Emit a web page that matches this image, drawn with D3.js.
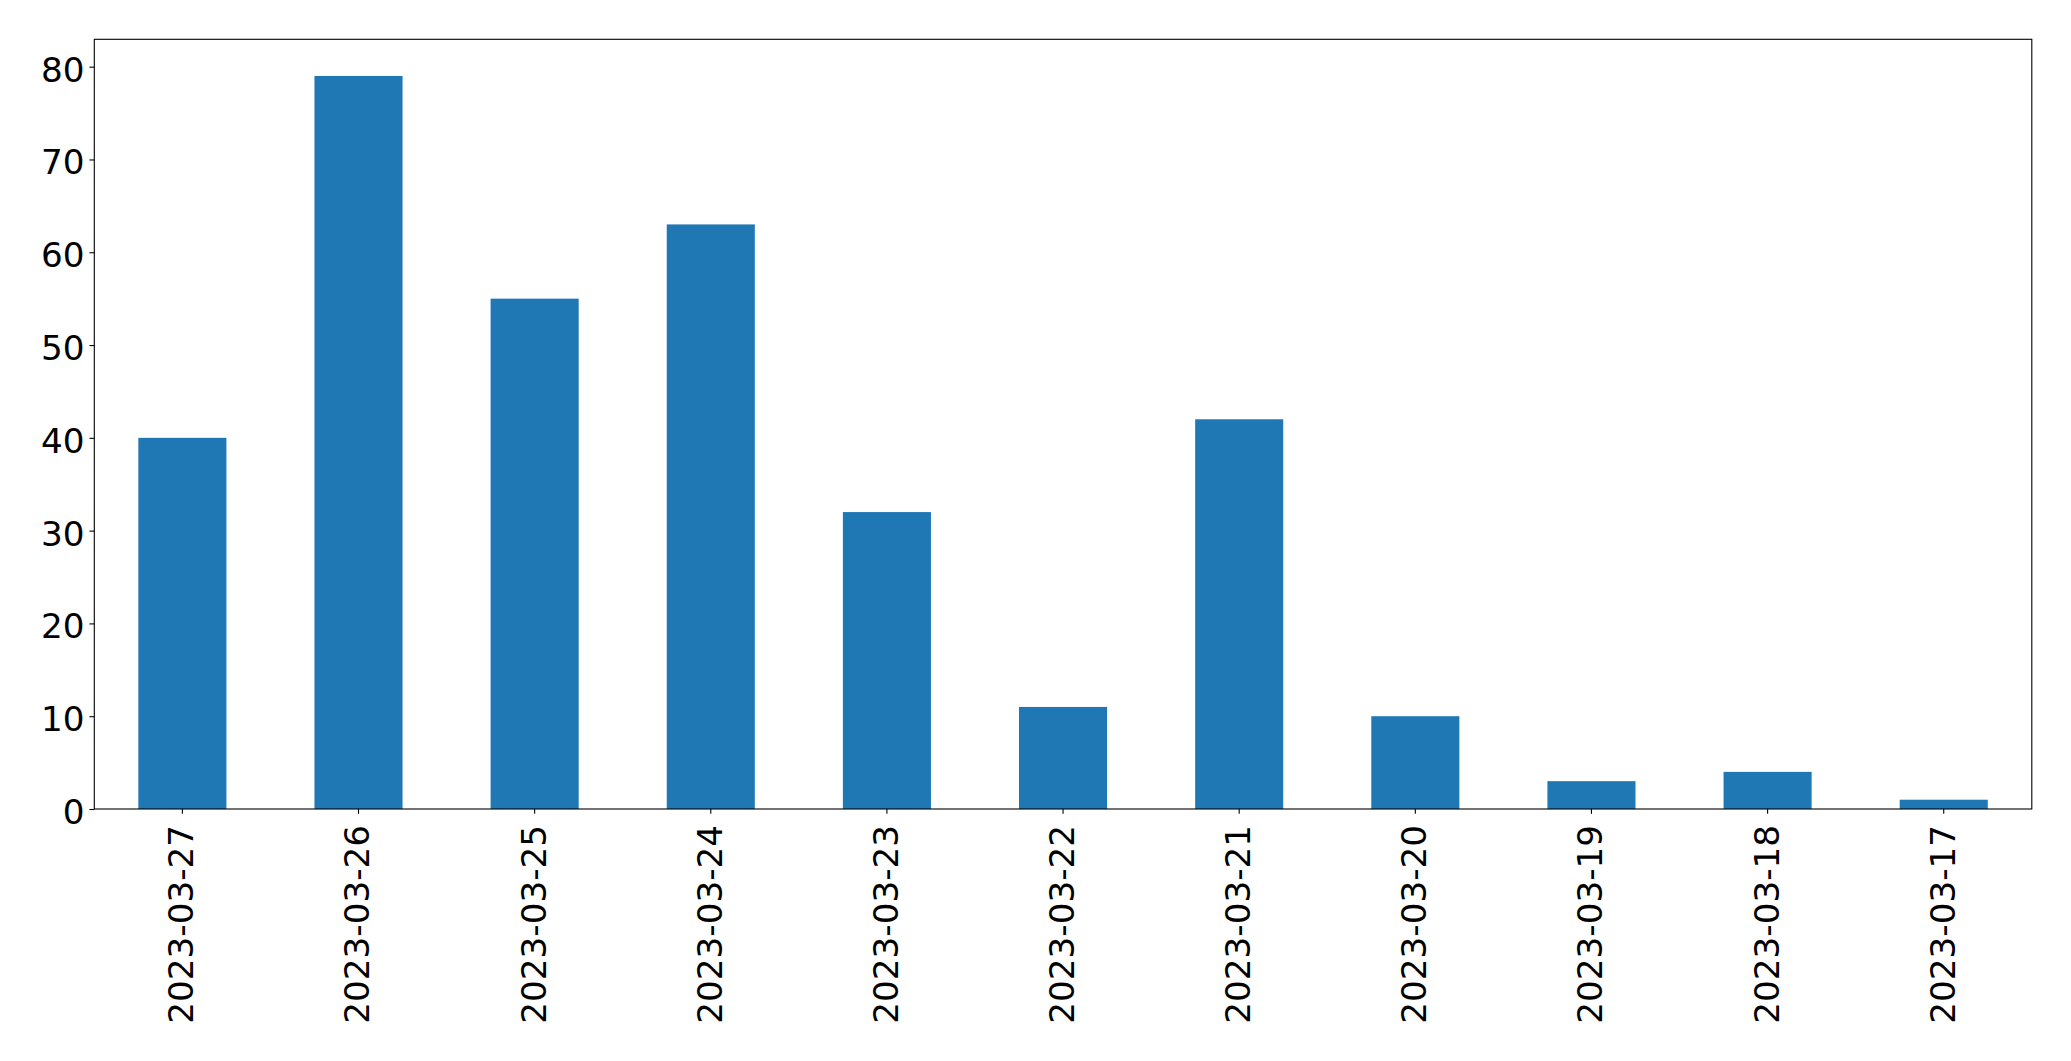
<!DOCTYPE html>
<html><head><meta charset="utf-8">
<script src="https://cdn.jsdelivr.net/npm/d3@7"></script>
<style>html,body{margin:0;padding:0;background:#fff;}svg{display:block;}</style>
</head><body>
<script>
const categories = ["2023-03-27","2023-03-26","2023-03-25","2023-03-24","2023-03-23","2023-03-22","2023-03-21","2023-03-20","2023-03-19","2023-03-18","2023-03-17"];
const values = [40, 79, 55, 63, 32, 11, 42, 10, 3, 4, 1];
const yTicks = [0, 10, 20, 30, 40, 50, 60, 70, 80];

const W = 2071, H = 1061;
const m = {left: 94.3, right: 2031.8, top: 39.3, bottom: 809};
const fontSize = 34.2;
const font = "DejaVu Sans, sans-serif";

const svg = d3.select("body").append("svg").attr("width", W).attr("height", H);

const x = d3.scaleBand().domain(categories).range([m.left, m.right]).paddingInner(0.5).paddingOuter(0.25);
const y = d3.scaleLinear().domain([0, d3.max(values) * 1.05]).range([m.bottom, m.top]);

svg.append("g").selectAll("rect").data(values).join("rect")
  .attr("x", (d, i) => x(categories[i]))
  .attr("width", x.bandwidth())
  .attr("y", d => y(d))
  .attr("height", d => y(0) - y(d))
  .attr("fill", "#1f77b4");

// frame
svg.append("rect").attr("x", m.left).attr("y", m.top)
  .attr("width", m.right - m.left).attr("height", m.bottom - m.top)
  .attr("fill", "none").attr("stroke", "#000").attr("stroke-width", 1.1);

const yAxis = d3.axisLeft(y).tickValues(yTicks).tickSize(4.86).tickPadding(5).tickFormat(d3.format("d"));
const gy = svg.append("g").attr("transform", `translate(${m.left},0)`).call(yAxis);
gy.select(".domain").remove();
gy.selectAll("line").attr("stroke", "#000").attr("stroke-width", 1.1);
gy.selectAll("text").attr("font-family", font).attr("font-size", fontSize).attr("fill", "#000")
  .attr("dy", "0.42em");

const xAxis = d3.axisBottom(x).tickSize(4.86).tickPadding(0);
const gx = svg.append("g").attr("transform", `translate(0,${m.bottom})`).call(xAxis);
gx.select(".domain").remove();
gx.selectAll("line").attr("stroke", "#000").attr("stroke-width", 1.1);
gx.selectAll("text")
  .attr("font-family", font).attr("font-size", fontSize).attr("fill", "#000")
  .attr("text-anchor", "end").attr("dy", "0.32em")
  .attr("transform", "translate(0,16) rotate(-90)")
  .attr("x", 0).attr("y", 0);
</script>
</body></html>
